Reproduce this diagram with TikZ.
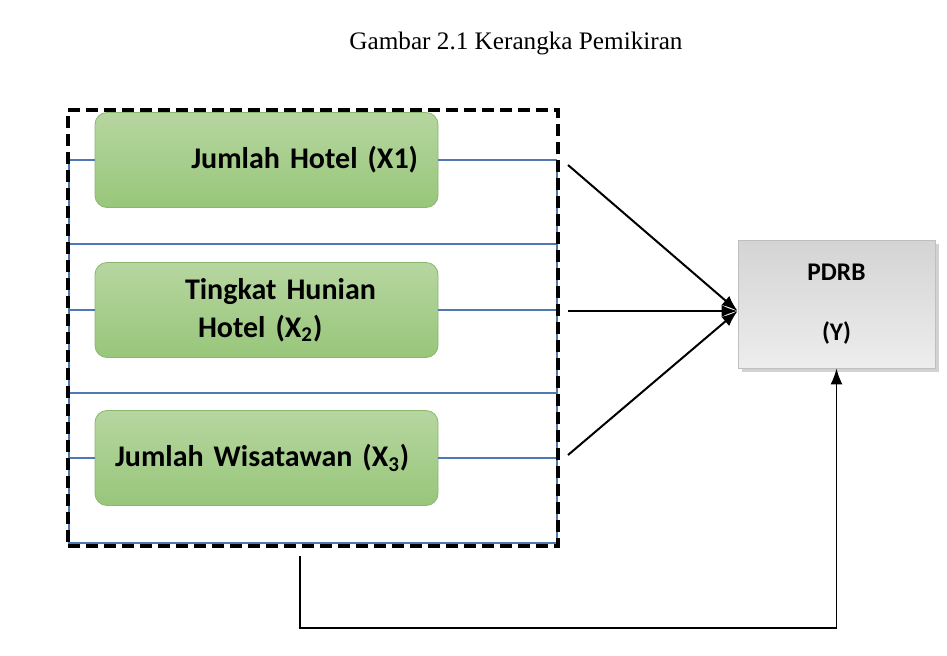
\documentclass[tikz,border=0pt]{standalone}
\usepackage{fontspec}
\setmainfont{Liberation Serif}
\setsansfont{Carlito}
\usepackage{tikz}
\usetikzlibrary{arrows.meta, positioning, calc, shadows}

\definecolor{boxtop}{RGB}{182,214,160}
\definecolor{boxbot}{RGB}{152,198,122}
\definecolor{boxline}{RGB}{138,182,110}
\definecolor{linkblue}{RGB}{79,120,180}

\begin{document}
\begin{tikzpicture}[
    x=0.5pt, y=-0.5pt,
    varbox/.style={draw=boxline, rounded corners=6pt, top color=boxtop, bottom color=boxbot,
        minimum width=171.5pt, minimum height=47.5pt, text width=151.5pt, inner xsep=10pt,
        font=\sffamily\bfseries\fontsize{15}{19}\selectfont},
    resbox/.style={draw=black!25, top color=black!17, bottom color=black!7,
        drop shadow={shadow xshift=2pt, shadow yshift=-2pt, fill=black!35},
        minimum width=98.5pt, minimum height=64pt, align=center,
        font=\sffamily\bfseries\fontsize{12.7}{30}\selectfont},
    frame/.style={draw, line width=2pt, dash pattern=on 6pt off 3pt,
        minimum width=245pt, minimum height=218pt, inner sep=0pt},
    blueline/.style={draw=linkblue, line width=0.8pt},
    arrow/.style={-{Latex[length=8pt, width=6pt]}, line width=1pt}
]
\useasboundingbox (0,0) rectangle (947,655);

% caption
\node[font=\fontsize{12.6}{15}\selectfont] (cap) at (516,43) {Gambar 2.1 Kerangka Pemikiran};

% independent variables
\node[varbox, align=right] (x1) at (266.5,160) {Jumlah Hotel (X1)};
\node[varbox, align=left] (x2) at (266.5,310)
    {\hspace*{35pt}Tingkat Hunian\\\hspace*{41.5pt}Hotel (X\textsubscript{2})};
\node[varbox, align=left] (x3) at (266.5,458) {Jumlah Wisatawan (X\textsubscript{3})};

% dependent variable
\node[resbox] (y) at (836.5,304) {PDRB\\(Y)};

% blue grouping lines
\coordinate (gl) at (69,160);
\coordinate (gr) at (557,160);
\draw[blueline] (gl) -- (69,543) -- (557,543) -- (gr);
\draw[blueline] (69,244) -- (557,244);
\draw[blueline] (69,393) -- (557,393);
\foreach \v in {x1,x2,x3} {
    \draw[blueline] (\v.west) -- (\v.west -| gl);
    \draw[blueline] (\v.east) -- (\v.east -| gr);
}

% dashed frame round the variables
\node[frame] (box) at (313,328) {};

% arrows to PDRB
\coordinate (a1) at (568,165);
\coordinate (a2) at (568,311);
\coordinate (a3) at (568,455);
\coordinate (tip) at ($(y.west)+(0,7)$);
\draw[arrow] (a1) -- (tip);
\draw[arrow] (a2) -- (tip);
\draw[arrow] (a3) -- (tip);

% joint effect
\coordinate (fb) at (300,556);
\coordinate (fbturn) at (300,628);
\draw[arrow, line width=0.8pt] (fb) -- (fbturn) -| (y.south);

\end{tikzpicture}
\end{document}
